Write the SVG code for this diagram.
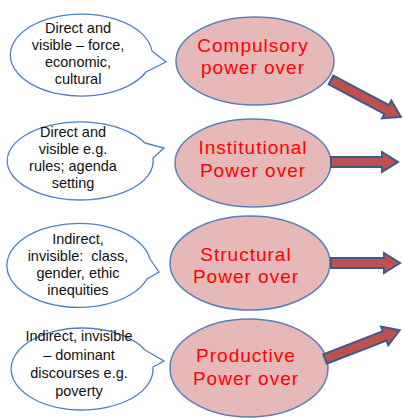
<svg xmlns="http://www.w3.org/2000/svg" width="403" height="418" viewBox="0 0 403 418">
<style>
.bub{fill:#fff;stroke:#4f81bd;stroke-width:1.3}
.btx{font-family:"Liberation Sans",Arial,sans-serif;font-size:14.5px;fill:#111;text-anchor:middle}
.ell{fill:#e6b9b8;stroke:#5b80b8;stroke-width:1.5}
.etx{font-family:"Liberation Sans",Arial,sans-serif;font-size:19px;letter-spacing:1px;fill:#ff0000;text-anchor:middle}
.arr{fill:#c0504d;stroke:#385d8a;stroke-width:2;stroke-linejoin:miter}
</style>
<rect width="403" height="418" fill="#fff"/>
<g id="bubble1">
<path class="bub" d="M152,51 L166,62 L146,72 A71,41 0 1 1 152,51 Z"/>
<text class="btx" x="78" y="33">Direct and</text>
<text class="btx" x="78" y="50">visible – force,</text>
<text class="btx" x="78" y="67">economic,</text>
<text class="btx" x="78" y="84">cultural</text>
</g>
<g id="bubble2">
<path class="bub" d="M145,143 L164,148 L153,158 A73,39 0 1 1 145,143 Z"/>
<text class="btx" x="73" y="137">Direct and</text>
<text class="btx" x="73" y="154">visible e.g.</text>
<text class="btx" x="73" y="171">rules; agenda</text>
<text class="btx" x="73" y="188">setting</text>
</g>
<g id="bubble3">
<path class="bub" d="M150,259 L159,272 L147,279 A72,42 0 1 1 150,259 Z"/>
<text class="btx" x="78" y="244">Indirect,</text>
<text class="btx" x="78" y="261" xml:space="preserve">invisible:  class,</text>
<text class="btx" x="78" y="278">gender, ethic</text>
<text class="btx" x="78" y="295">inequities</text>
</g>
<g id="bubble4">
<path class="bub" d="M145,350 L164,361 L153,367 A71,41 0 1 1 145,350 Z"/>
<text class="btx" x="79" y="341">Indirect, invisible</text>
<text class="btx" x="79" y="360">– dominant</text>
<text class="btx" x="79" y="378">discourses e.g.</text>
<text class="btx" x="79" y="396">poverty</text>
</g>
<g id="compulsory">
<ellipse class="ell" cx="255" cy="61" rx="79" ry="44"/>
<text class="etx" x="253" y="52">Compulsory</text>
<text class="etx" x="253" y="74">power over</text>
</g>
<g id="institutional">
<ellipse class="ell" cx="253" cy="163" rx="78" ry="44"/>
<text class="etx" x="253" y="154">Institutional</text>
<text class="etx" x="253" y="177">Power over</text>
</g>
<g id="structural">
<ellipse class="ell" cx="250" cy="263" rx="80" ry="47"/>
<text class="etx" x="246" y="261">Structural</text>
<text class="etx" x="246" y="283">Power over</text>
</g>
<g id="productive">
<ellipse class="ell" cx="249" cy="368" rx="79" ry="49"/>
<text class="etx" x="246" y="362">Productive</text>
<text class="etx" x="246" y="385">Power over</text>
</g>
<g id="connectors">
<polygon class="arr" points="0,-5 63,-5 63,-10 79,0 63,10 63,5 0,5" transform="translate(331,80) rotate(27.9)"/>
<polygon class="arr" points="0,-5 51,-5 51,-10 67,0 51,10 51,5 0,5" transform="translate(331,162)"/>
<polygon class="arr" points="0,-5 53,-5 53,-10 69,0 53,10 53,5 0,5" transform="translate(331,263)"/>
<polygon class="arr" points="0,-5 64,-5 64,-10 80,0 64,10 64,5 0,5" transform="translate(325,359) rotate(-21.1)"/>
</g>
</svg>
